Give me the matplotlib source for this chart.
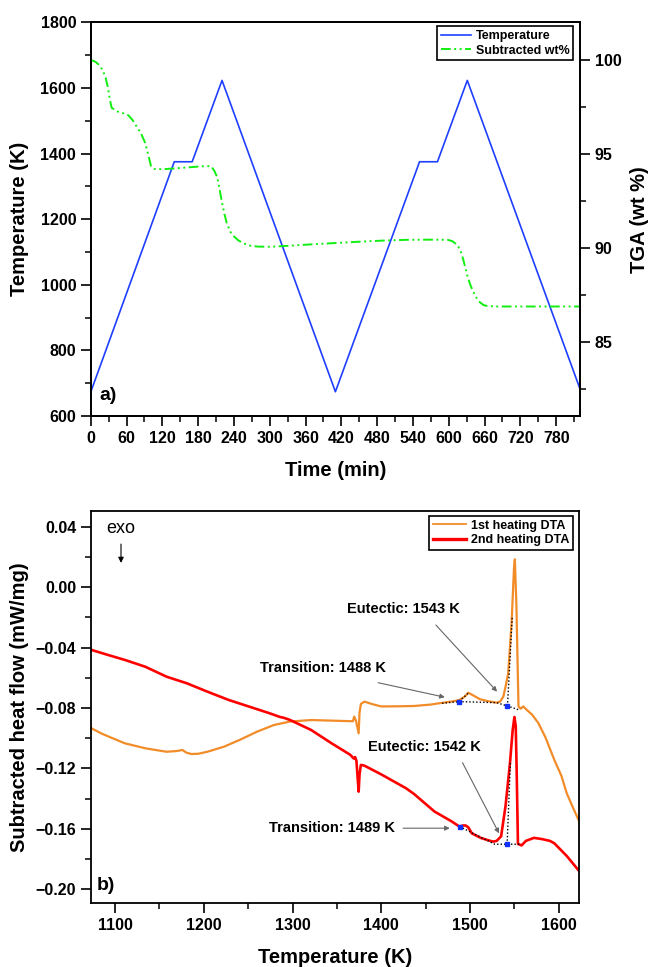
import matplotlib
matplotlib.use('Agg')
import matplotlib.pyplot as plt
from matplotlib.ticker import MultipleLocator, FuncFormatter

plt.rcParams['font.family'] = ['Liberation Sans', 'DejaVu Sans']
plt.rcParams['axes.unicode_minus'] = True

# ---- a) temperature program and TGA ----
prog_time = [0, 140, 170, 220, 410, 551, 581, 631, 820]
prog_temp = [673, 1375, 1375, 1623, 674, 1375, 1375, 1623, 682]

tga_time = [0, 8, 15, 20, 25, 29, 32, 35, 45, 55, 63, 70, 77, 84, 91, 96, 101, 106,
            120, 140, 160, 180, 195, 202, 207, 212, 216, 220, 224, 228, 234, 240,
            247, 255, 265, 280, 300, 330, 370, 410, 450, 490, 530, 570, 598, 606,
            612, 616, 620, 624, 628, 632, 637, 642, 647, 652, 658, 664, 680, 720,
            760, 800, 820]
tga_wt = [100.0, 99.9, 99.7, 99.45, 99.05, 98.5, 97.9, 97.45, 97.25, 97.15, 97.05,
          96.8, 96.45, 96.1, 95.6, 95.0, 94.35, 94.2, 94.18, 94.22, 94.27, 94.32,
          94.35, 94.33, 94.1, 93.75, 93.1, 92.4, 91.8, 91.3, 90.85, 90.6, 90.4,
          90.25, 90.12, 90.06, 90.05, 90.1, 90.18, 90.25, 90.32, 90.38, 90.42,
          90.43, 90.42, 90.35, 90.2, 90.05, 89.8, 89.4, 88.9, 88.4, 87.95, 87.6,
          87.3, 87.1, 86.95, 86.9, 86.87, 86.87, 86.87, 86.87, 86.87]

# ---- b) DTA heating runs ----
dta1_T = [1073.5, 1085, 1095, 1111, 1134, 1158, 1170, 1176, 1180, 1186, 1194, 1204,
          1223, 1241, 1260, 1279, 1297, 1321, 1344, 1368, 1369.5, 1371.5, 1374.5,
          1375.5, 1377, 1381, 1390, 1400, 1420, 1437, 1455, 1470, 1480, 1488, 1494,
          1498, 1503, 1511, 1520, 1530, 1534, 1537.5, 1540, 1543, 1546.8, 1549.5,
          1550.5, 1552.3, 1554.6, 1557, 1560, 1564, 1570, 1577, 1585, 1595, 1603,
          1609, 1616, 1623]
dta1_q = [-0.0935, -0.097, -0.0995, -0.1034, -0.1067, -0.109, -0.1085, -0.1078,
          -0.1095, -0.1105, -0.1103, -0.109, -0.1056, -0.101, -0.0957, -0.0913,
          -0.089, -0.088, -0.0884, -0.0888, -0.0857, -0.0885, -0.0968, -0.083,
          -0.0774, -0.0758, -0.0775, -0.079, -0.0789, -0.0787, -0.0778, -0.0765,
          -0.0757, -0.0747, -0.0725, -0.0699, -0.0715, -0.0742, -0.0755, -0.0765,
          -0.0758, -0.0725, -0.066, -0.057, -0.024, 0.012, 0.0184, -0.013, -0.079,
          -0.0805, -0.079, -0.0813, -0.0845, -0.090, -0.0995, -0.1144, -0.125,
          -0.1365, -0.146, -0.155]

dta2_T = [1073.5, 1092.5, 1111, 1134, 1158, 1181, 1204, 1228, 1251, 1274, 1286, 1290,
          1297, 1321, 1344, 1365, 1369, 1370.5, 1372, 1374.5, 1375.5, 1377, 1381,
          1400, 1428, 1437, 1460, 1479, 1488, 1492, 1495, 1498, 1502, 1512, 1520,
          1526, 1530, 1535, 1540, 1545, 1548, 1550, 1551.5, 1552.5, 1554, 1558,
          1563, 1572, 1581, 1590, 1595, 1609, 1623]
dta2_q = [-0.0416, -0.045, -0.0482, -0.0527, -0.0593, -0.0637, -0.0692, -0.0747,
          -0.0791, -0.0835, -0.086, -0.0865, -0.0879, -0.0946, -0.1034, -0.111,
          -0.1135, -0.1125, -0.115, -0.1354, -0.124, -0.1177, -0.1182, -0.124,
          -0.1332, -0.137, -0.1486, -0.155, -0.1585, -0.1578, -0.1578, -0.159,
          -0.163, -0.166, -0.1675, -0.1685, -0.168, -0.165, -0.145, -0.1166, -0.095,
          -0.086, -0.092, -0.120, -0.170, -0.171, -0.168, -0.166, -0.1668, -0.168,
          -0.1696, -0.178, -0.188]

# onset construction lines (tangents / baselines) and onset points
base1_T = [1468.5, 1487.4, 1497.9]
base1_q = [-0.0769, -0.0758, -0.0703]
base1b_T = [1487.4, 1529.8, 1542.2, 1555.3]
base1b_q = [-0.0758, -0.0765, -0.0787, -0.0813]
tan1_T = [1542.2, 1547.5]
tan1_q = [-0.0787, -0.020]
base2_T = [1488.3, 1527.8, 1541.8, 1555.8]
base2_q = [-0.1585, -0.1702, -0.1702, -0.1702]
tan2_T = [1541.8, 1545.5]
tan2_q = [-0.1702, -0.115]
onset_T = [1487.4, 1542.2, 1488.3, 1541.8]
onset_q = [-0.0758, -0.0787, -0.1585, -0.1702]


def fmt_flow(v, pos):
    s = '%.2f' % (round(v, 2) + 0.0)
    if s.startswith('-'):
        s = '\u2212' + s[1:]
    return s


fig = plt.figure(figsize=(6.49, 9.67), dpi=100)
ax1 = fig.add_axes([0.1398, 0.5698, 0.7540, 0.4071])
ax2 = ax1.twinx()
ax3 = fig.add_axes([0.1398, 0.0659, 0.7529, 0.4057])

blue = '#1f3fff'
green = '#11ee11'
orange = '#f28c28'
red = '#ff0000'

l1, = ax1.plot(prog_time, prog_temp, color=blue, lw=1.2, label='Temperature')
l2, = ax2.plot(tga_time, tga_wt, color=green, lw=1.4,
               linestyle=(0, (5, 1.8, 1, 1.8, 1, 1.8)), label='Subtracted wt%')

ax1.set_xlim(0, 820)
ax1.set_ylim(600, 1800)
ax2.set_ylim(81.04, 102.0)
ax1.xaxis.set_major_locator(MultipleLocator(60))
ax1.xaxis.set_minor_locator(MultipleLocator(30))
ax1.yaxis.set_major_locator(MultipleLocator(200))
ax1.yaxis.set_minor_locator(MultipleLocator(100))
ax2.yaxis.set_major_locator(MultipleLocator(5))
ax2.yaxis.set_minor_locator(MultipleLocator(2.5))

ax1.set_xlabel('Time (min)', fontsize=14.5, fontweight='bold')
ax1.set_ylabel('Temperature (K)', fontsize=14.5, fontweight='bold')
ax2.set_ylabel('TGA (wt %)', fontsize=14.5, fontweight='bold')
ax1.xaxis.set_label_coords(0.5, -0.115)
ax1.yaxis.set_label_coords(-0.126, 0.5)
ax2.yaxis.set_label_coords(1.102, 0.5)

leg1 = ax1.legend([l1, l2], ['Temperature', 'Subtracted wt%'], loc='upper right',
                  bbox_to_anchor=(0.986, 0.99), borderaxespad=0, fancybox=False,
                  edgecolor='black', framealpha=1, handlelength=2.4,
                  handletextpad=0.4, borderpad=0.3, labelspacing=0.2,
                  prop={'size': 9, 'weight': 'bold'})
leg1.get_frame().set_linewidth(1.2)
ax1.text(0.018, 0.04, 'a)', transform=ax1.transAxes, fontsize=14, fontweight='bold')

# bottom panel
ax3.plot(dta1_T, dta1_q, color=orange, lw=1.6, label='1st heating DTA')
ax3.plot(dta2_T, dta2_q, color=red, lw=1.9, label='2nd heating DTA')
for xs, ys in [(base1_T, base1_q), (base1b_T, base1b_q), (tan1_T, tan1_q),
               (base2_T, base2_q), (tan2_T, tan2_q)]:
    ax3.plot(xs, ys, color='black', lw=1.0, linestyle=(0, (1, 1.5)))
ax3.plot(onset_T, onset_q, linestyle='none', marker='s', ms=2.5, color='#1030ff')

ax3.set_xlim(1072.6, 1623.2)
ax3.set_ylim(-0.2093, 0.0504)
ax3.xaxis.set_major_locator(MultipleLocator(100))
ax3.xaxis.set_minor_locator(MultipleLocator(50))
ax3.yaxis.set_major_locator(MultipleLocator(0.04))
ax3.yaxis.set_minor_locator(MultipleLocator(0.02))
ax3.yaxis.set_major_formatter(FuncFormatter(fmt_flow))
ax3.set_xlabel('Temperature (K)', fontsize=14.5, fontweight='bold')
ax3.set_ylabel('Subtracted heat flow (mW/mg)', fontsize=14.5, fontweight='bold')
ax3.xaxis.set_label_coords(0.5, -0.115)
ax3.yaxis.set_label_coords(-0.126, 0.5)

leg3 = ax3.legend(loc='upper right', bbox_to_anchor=(0.9865, 0.987), borderaxespad=0,
                  fancybox=False, edgecolor='black', framealpha=1, handlelength=2.6,
                  handletextpad=0.4, borderpad=0.3, labelspacing=0.2,
                  prop={'size': 9, 'weight': 'bold'})
leg3.get_frame().set_linewidth(1.2)
leg3.get_lines()[0].set_linewidth(1.3)
leg3.get_lines()[1].set_linewidth(2.4)

arrow = dict(arrowstyle='-|>', color='0.4', lw=0.8, mutation_scale=7,
             shrinkA=0, shrinkB=0)
ax3.annotate('', xy=(1471.6, -0.0729), xytext=(1396.5, -0.0633), arrowprops=arrow)
ax3.text(1334.5, -0.0537, 'Transition: 1488 K', ha='center', va='center',
         fontsize=10.5, fontweight='bold')
ax3.annotate('', xy=(1530.5, -0.0692), xytext=(1461.5, -0.0251), arrowprops=arrow)
ax3.text(1425.4, -0.0145, 'Eutectic: 1543 K', ha='center', va='center',
         fontsize=10.5, fontweight='bold')
ax3.annotate('', xy=(1532.7, -0.163), xytext=(1491.5, -0.1162), arrowprops=arrow)
ax3.text(1449, -0.1056, 'Eutectic: 1542 K', ha='center', va='center',
         fontsize=10.5, fontweight='bold')
ax3.annotate('', xy=(1477.2, -0.1596), xytext=(1424.6, -0.1596), arrowprops=arrow)
ax3.text(1344, -0.1596, 'Transition: 1489 K', ha='center', va='center',
         fontsize=10.5, fontweight='bold')

ax3.text(1106.6, 0.039, 'exo', ha='center', va='center', fontsize=13)
ax3.annotate('', xy=(1106.7, 0.016), xytext=(1106.7, 0.0285),
             arrowprops=dict(arrowstyle='-|>', color='black', lw=0.8,
                             mutation_scale=8, shrinkA=0, shrinkB=0))
ax3.text(0.013, 0.035, 'b)', transform=ax3.transAxes, fontsize=14, fontweight='bold')

# spines and ticks
for ax in (ax1, ax2, ax3):
    for s in ax.spines.values():
        s.set_linewidth(1.3)
for ax in (ax1, ax3):
    ax.tick_params(axis='both', which='major', direction='out', length=7, width=1.2,
                   labelsize=11.5, pad=3.5)
    ax.tick_params(axis='both', which='minor', direction='out', length=4, width=1.1)
    for lab in ax.get_xticklabels() + ax.get_yticklabels():
        lab.set_fontweight('bold')
ax2.tick_params(axis='y', which='major', direction='out', length=7, width=1.2,
                labelsize=11.5, pad=3.5)
ax2.tick_params(axis='y', which='minor', direction='out', length=4, width=1.1)
for lab in ax2.get_yticklabels():
    lab.set_fontweight('bold')

fig.savefig('out.png', dpi=100)
